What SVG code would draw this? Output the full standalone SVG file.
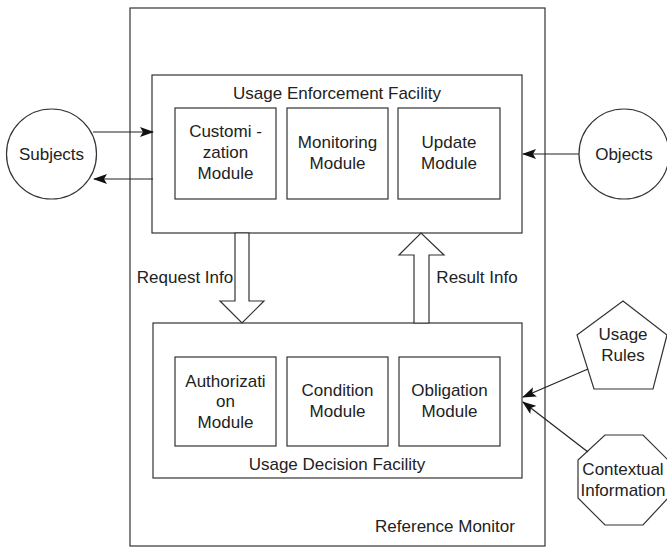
<svg xmlns="http://www.w3.org/2000/svg" width="667" height="547" viewBox="0 0 667 547">
<defs>
<style>
.b{fill:#fff;stroke:#333;stroke-width:1.2}
.t{font-family:"Liberation Sans",Arial,sans-serif;font-size:17px;fill:#222;text-anchor:middle}
.c{stroke:#222;stroke-width:1.2;fill:none}
</style>
<marker id="ah" markerWidth="14" markerHeight="10" refX="13" refY="5" orient="auto" markerUnits="userSpaceOnUse">
<path d="M0,0 L14,5 L0,10 L3,5 Z" fill="#111"/>
</marker>
</defs>
<rect width="667" height="547" fill="#fff"/>
<g id="reference-monitor">
<rect class="b" x="130" y="8" width="415" height="538"/>
<text class="t" x="445" y="532">Reference Monitor</text>
</g>
<g id="uef">
<rect class="b" x="152" y="75" width="370" height="158"/>
<text class="t" x="337" y="99">Usage Enforcement Facility</text>
</g>
<g id="customization">
<rect class="b" x="175" y="108" width="101" height="91"/>
<text class="t" x="225.5" y="137">Customi -</text>
<text class="t" x="225.5" y="158">zation</text>
<text class="t" x="225.5" y="179">Module</text>
</g>
<g id="monitoring">
<rect class="b" x="287" y="108" width="101" height="91"/>
<text class="t" x="337.5" y="148">Monitoring</text>
<text class="t" x="337.5" y="169">Module</text>
</g>
<g id="update">
<rect class="b" x="398" y="108" width="102" height="91"/>
<text class="t" x="449" y="148">Update</text>
<text class="t" x="449" y="169">Module</text>
</g>
<g id="udf">
<rect class="b" x="153" y="323" width="369" height="155"/>
<text class="t" x="337" y="470">Usage Decision Facility</text>
</g>
<g id="authorization">
<rect class="b" x="175" y="357" width="101" height="89"/>
<text class="t" x="225.5" y="387">Authorizati</text>
<text class="t" x="225.5" y="407">on</text>
<text class="t" x="225.5" y="428">Module</text>
</g>
<g id="condition">
<rect class="b" x="287" y="357" width="101" height="89"/>
<text class="t" x="337.5" y="396">Condition</text>
<text class="t" x="337.5" y="417">Module</text>
</g>
<g id="obligation">
<rect class="b" x="399" y="357" width="101" height="89"/>
<text class="t" x="449.5" y="396">Obligation</text>
<text class="t" x="449.5" y="417">Module</text>
</g>
<g id="subjects">
<circle class="b" cx="51.5" cy="154" r="45"/>
<text class="t" x="51.5" y="160">Subjects</text>
</g>
<g id="objects">
<circle class="b" cx="624" cy="154" r="45"/>
<text class="t" x="624" y="160">Objects</text>
</g>
<g id="usage-rules">
<polygon class="b" points="623,301 667,335 653,389 594,389 577,335"/>
<text class="t" x="623" y="340">Usage</text>
<text class="t" x="623" y="361">Rules</text>
</g>
<g id="contextual">
<polygon class="b" points="605,435 643,435 668,460 668,498 643,525 605,525 578,498 578,460"/>
<text class="t" x="623" y="475">Contextual</text>
<text class="t" x="623" y="496">Information</text>
</g>
<g id="connectors">
<line class="c" x1="93" y1="132" x2="153" y2="132" marker-end="url(#ah)"/>
<line class="c" x1="153" y1="179" x2="94" y2="179" marker-end="url(#ah)"/>
<line class="c" x1="579" y1="154" x2="523" y2="154" marker-end="url(#ah)"/>
<line class="c" x1="588" y1="369" x2="523" y2="397" marker-end="url(#ah)"/>
<line class="c" x1="588" y1="452" x2="523" y2="402" marker-end="url(#ah)"/>
<polygon class="b" points="235,233 249,233 249,301 264,301 242,323 220,301 235,301"/>
<polygon class="b" points="414,323 429,323 429,255 444,255 421,233 399,255 414,255"/>
<text class="t" x="185" y="283">Request Info</text>
<text class="t" x="477" y="283">Result Info</text>
</g>
</svg>
